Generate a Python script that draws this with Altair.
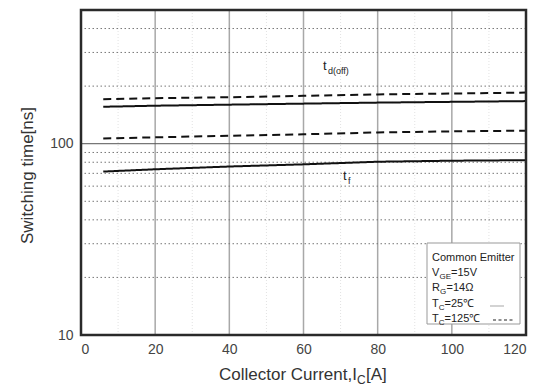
import altair as alt
import pandas as pd

# ---- data ----
current = [6, 20, 40, 60, 80, 100, 120]
td_off_25 = [156, 158, 160, 162, 164, 165.5, 167]
td_off_125 = [171, 173, 175, 178, 181, 183, 185]
tf_25 = [71.5, 73.5, 76, 78, 80.5, 81.5, 82]
tf_125 = [106.5, 108, 110, 112, 114.5, 116, 117]

x_ticks = [0, 20, 40, 60, 80, 100, 120]
y_ticks = [10, 100]
x_major_grid = [20, 40, 60, 80, 100]
x_minor_grid = [10, 30, 50, 70, 90, 110]
y_minor_grid = [20, 30, 40, 50, 60, 70, 80, 90, 200, 300, 400]
y_major_grid = [100]

FONT = "Liberation Sans"
W, H = 445, 325
L, T = 81, 10  # plot origin in page pixels

rows = []
for name, temp, vals in [("td_off", "25", td_off_25), ("td_off", "125", td_off_125),
                         ("tf", "25", tf_25), ("tf", "125", tf_125)]:
    for c, v in zip(current, vals):
        rows.append({"series": name + "_" + temp, "temp": temp, "I": c, "t": v})
lines_df = pd.DataFrame(rows)

xs = alt.Scale(domain=[0, 120], nice=False, zero=False)
ys = alt.Scale(type="log", domain=[10, 500], nice=False)

xaxis = alt.Axis(values=x_ticks, title=None, ticks=False, grid=False,
                 labelFontSize=14, labelColor="#444", labelFont=FONT,
                 labelPadding=7, domain=False)
yaxis = alt.Axis(values=y_ticks, title="Switching time[ns]", ticks=False, grid=False,
                 labelFontSize=14, labelColor="#444", labelFont=FONT,
                 labelPadding=8, domain=False,
                 titleFont=FONT, titleFontSize=17, titleColor="#333",
                 titleFontWeight="normal", titleAngle=-90,
                 titleX=-49, titleY=165, titleAlign="center",
                 titleBaseline="alphabetic")

def vrules(vals, **kw):
    return alt.Chart(pd.DataFrame({"I": vals})).mark_rule(**kw).encode(
        x=alt.X("I:Q", scale=xs, axis=xaxis))

def hrules(vals, **kw):
    return alt.Chart(pd.DataFrame({"t": vals})).mark_rule(**kw).encode(
        y=alt.Y("t:Q", scale=ys, axis=yaxis))

dummy = pd.DataFrame({"d": [0]})

def txt(s, x, y, size=11, color="#222", align="left", baseline="alphabetic", angle=0):
    return alt.Chart(dummy).mark_text(text=s, font=FONT, fontSize=size, color=color,
                                      align=align, baseline=baseline, angle=angle).encode(
        x=alt.value(x - L), y=alt.value(y - T))

def seg(x1, x2, y, **kw):
    return alt.Chart(dummy).mark_rule(**kw).encode(
        x=alt.value(x1 - L), x2=alt.value(x2 - L), y=alt.value(y - T))

grid_minor_v = vrules(x_minor_grid, color="#e2e2e2", strokeWidth=1, strokeDash=[1, 2])
grid_major_v = vrules(x_major_grid, color="#a8a8a8", strokeWidth=1.5)
grid_minor_h = hrules(y_minor_grid, color="#777", strokeWidth=1, strokeDash=[1.5, 2.5])
grid_major_h = hrules(y_major_grid, color="#555", strokeWidth=1)

lines = alt.Chart(lines_df).mark_line(color="#111", strokeWidth=2).encode(
    x=alt.X("I:Q", scale=xs, axis=xaxis),
    y=alt.Y("t:Q", scale=ys, axis=yaxis),
    detail="series:N",
    strokeDash=alt.StrokeDash("temp:N", scale=alt.Scale(domain=["25", "125"],
                                                          range=[[1, 0], [8, 5]]),
                              legend=None),
)

# curve labels
labels = [
    txt("t", 323, 70, size=13),
    txt("d(off)", 328, 74, size=9),
    txt("t", 343, 180, size=13),
    txt("f", 348, 184, size=9),
]

# x axis title with subscript
xtitle = [
    txt("Collector Current,I", 219, 380, size=17, color="#333"),
    txt("C", 357, 384, size=12, color="#333"),
    txt("[A]", 366, 380, size=17, color="#333"),
]

# plot frame
frame = alt.Chart(dummy).mark_rect(fill=None, stroke="#2a2a2a", strokeWidth=2.5).encode(
    x=alt.value(0), x2=alt.value(W), y=alt.value(0), y2=alt.value(H))

# legend box
box = alt.Chart(dummy).mark_rect(fill="white", stroke="#999", strokeWidth=1).encode(
    x=alt.value(427 - L), x2=alt.value(520 - L), y=alt.value(243 - T), y2=alt.value(324 - T))
legend = [
    box,
    txt("Common Emitter", 432, 261, size=11),
    txt("V", 432, 276, size=11), txt("GE", 439.5, 279, size=8), txt("=15V", 451, 276, size=11),
    txt("R", 432, 291, size=11), txt("G", 440, 294, size=8), txt("=14Ω", 446.5, 291, size=11),
    txt("T", 432, 307, size=11), txt("C", 438.8, 310, size=8), txt("=25℃", 444.5, 307, size=11),
    txt("T", 432, 322, size=11), txt("C", 438.8, 325, size=8), txt("=125℃", 444.5, 322, size=11),
    seg(490, 504, 306, color="#c4c4c4", strokeWidth=1.5),
    seg(493, 514, 320, color="#222", strokeWidth=1.2, strokeDash=[3, 2.5]),
]

chart = alt.layer(grid_minor_v, grid_major_v, grid_minor_h, grid_major_h, lines,
                  *labels, *xtitle, *legend, frame).properties(
    width=W, height=H,
    padding={"left": L, "top": T, "right": 546 - L - W, "bottom": 388 - T - H},
    autosize="none",
).configure_view(stroke=None).configure(background="white")

chart.save("out.html", embed_options={"renderer": "svg", "actions": False})
